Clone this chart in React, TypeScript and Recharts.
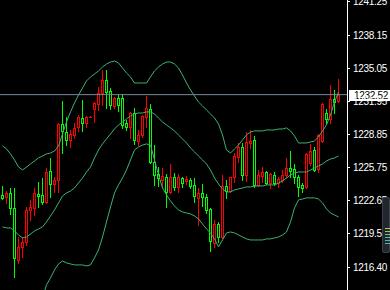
import React from 'react';
import { ComposedChart, Bar, Line, XAxis, YAxis, ReferenceLine } from 'recharts';

// candles, left to right
const OPEN = [
  1223.12, 1222.90, 1223.33, 1221.90, 1217.03, 1218.25, 1218.71, 1221.67, 1221.90, 1223.21,
  1223.07, 1222.49, 1225.37, 1224.15, 1224.52, 1229.77, 1229.05, 1228.27, 1228.74, 1229.49,
  1230.36, 1229.89, 1230.42, 1231.18, 1231.65, 1232.68, 1233.89, 1232.86, 1231.49, 1232.24,
  1232.24, 1229.86, 1229.52, 1230.80, 1228.21, 1228.74, 1230.43, 1231.18, 1226.21, 1225.09,
  1224.52, 1224.81, 1223.40, 1224.81, 1223.87, 1224.71, 1224.43, 1224.52, 1224.06, 1222.84,
  1223.31, 1222.93, 1221.81, 1218.62, 1220.40, 1219.18, 1223.96, 1223.49, 1224.81, 1226.68,
  1227.62, 1224.99, 1227.99, 1228.27, 1224.06, 1224.90, 1225.27, 1224.24, 1224.99, 1224.24,
  1224.52, 1224.99, 1225.65, 1225.55, 1224.81, 1224.06, 1223.87, 1226.12, 1227.33, 1225.55,
  1228.18, 1230.80, 1230.24, 1232.11, 1231.93,
];
const HIGH = [
  1223.96, 1223.52, 1223.77, 1223.77, 1219.18, 1219.18, 1221.99, 1222.65, 1223.77, 1224.34,
  1224.71, 1225.65, 1226.59, 1224.81, 1229.86, 1231.93, 1230.43, 1229.21, 1229.86, 1230.61,
  1232.02, 1230.52, 1230.48, 1231.86, 1233.27, 1234.86, 1234.83, 1233.14, 1232.33, 1232.49,
  1232.58, 1230.14, 1230.90, 1231.27, 1229.21, 1230.61, 1232.40, 1231.65, 1227.80, 1225.74,
  1225.65, 1225.09, 1226.02, 1225.18, 1225.09, 1224.81, 1224.90, 1224.71, 1224.71, 1223.77,
  1224.15, 1223.21, 1221.90, 1220.78, 1220.59, 1224.99, 1224.52, 1224.81, 1227.05, 1227.99,
  1227.99, 1229.02, 1229.21, 1228.65, 1225.46, 1225.74, 1225.37, 1225.18, 1225.27, 1224.81,
  1225.46, 1226.59, 1227.24, 1226.02, 1224.99, 1224.24, 1227.05, 1227.89, 1227.62, 1228.83,
  1231.74, 1231.18, 1233.43, 1232.96, 1233.99,
];
const LOW = [
  1222.70, 1222.34, 1221.34, 1215.43, 1216.75, 1217.31, 1218.43, 1220.78, 1221.24, 1221.99,
  1222.27, 1222.37, 1222.93, 1223.40, 1223.40, 1227.05, 1227.80, 1227.62, 1228.46, 1229.12,
  1229.12, 1229.49, 1230.40, 1229.99, 1231.08, 1231.58, 1231.27, 1231.18, 1231.27, 1230.99,
  1229.42, 1229.21, 1228.46, 1227.89, 1227.80, 1228.55, 1229.49, 1226.12, 1224.06, 1223.96,
  1223.77, 1221.99, 1223.31, 1223.59, 1223.40, 1223.87, 1224.15, 1223.77, 1222.46, 1220.31,
  1222.09, 1221.43, 1217.87, 1218.25, 1218.71, 1219.09, 1222.84, 1223.40, 1224.34, 1226.21,
  1224.52, 1224.43, 1227.52, 1223.87, 1223.96, 1224.34, 1224.15, 1223.77, 1224.06, 1223.87,
  1224.34, 1224.71, 1224.81, 1224.24, 1223.02, 1223.40, 1223.77, 1225.93, 1225.37, 1225.27,
  1228.08, 1229.86, 1229.86, 1230.80, 1231.83,
];
const CLOSE = [
  1222.87, 1223.33, 1221.87, 1217.22, 1218.25, 1218.71, 1221.71, 1221.99, 1223.31, 1223.02,
  1222.42, 1225.30, 1224.15, 1224.52, 1229.77, 1229.12, 1228.27, 1228.83, 1229.40, 1230.43,
  1229.86, 1230.43, 1230.46, 1231.74, 1232.68, 1233.89, 1232.80, 1231.55, 1232.24, 1231.55,
  1229.68, 1229.52, 1230.80, 1228.27, 1228.74, 1230.52, 1231.27, 1226.21, 1224.99, 1224.71,
  1224.90, 1223.40, 1224.81, 1223.87, 1224.81, 1224.24, 1224.62, 1223.96, 1223.02, 1223.31,
  1222.93, 1221.71, 1218.81, 1220.40, 1219.18, 1223.96, 1223.52, 1224.81, 1226.77, 1227.62,
  1224.99, 1228.08, 1228.18, 1224.06, 1224.99, 1225.27, 1224.24, 1225.09, 1224.24, 1224.62,
  1224.99, 1225.65, 1225.32, 1224.81, 1223.87, 1223.77, 1226.96, 1227.24, 1225.46, 1228.74,
  1231.65, 1230.24, 1232.11, 1231.83, 1232.52,
];

// bollinger bands
const BB_UPPER = [
  1227.71, 1227.43, 1226.96, 1226.40, 1225.74, 1225.46, 1225.74, 1226.02, 1226.30, 1226.59,
  1226.77, 1226.96, 1227.05, 1227.24, 1227.71, 1228.83, 1229.96, 1230.90, 1231.74, 1232.49,
  1233.14, 1233.80, 1234.18, 1234.46, 1234.74, 1235.11, 1235.39, 1235.58, 1235.67, 1235.49,
  1235.02, 1234.55, 1234.18, 1233.61, 1233.61, 1233.61, 1233.61, 1234.18, 1234.74, 1235.11,
  1235.39, 1235.58, 1235.58, 1235.39, 1235.02, 1234.36, 1233.61, 1232.96, 1232.39, 1231.83,
  1231.46, 1231.08, 1230.71, 1230.33, 1229.77, 1228.74, 1227.33, 1227.05, 1227.43, 1227.80,
  1228.27, 1228.74, 1229.02, 1229.12, 1229.12, 1229.12, 1229.21, 1229.21, 1229.21, 1229.30,
  1229.30, 1229.40, 1229.12, 1228.65, 1227.99, 1227.99, 1227.99, 1228.08, 1228.18, 1228.55,
  1229.12, 1229.68, 1230.61, 1231.83, 1232.77,
];
const BB_MID = [
  1220.12, 1220.03, 1220.03, 1219.75, 1219.37, 1219.09, 1219.18, 1219.46, 1219.75, 1219.93,
  1220.12, 1220.59, 1221.15, 1221.71, 1222.37, 1223.02, 1223.31, 1223.49, 1223.77, 1224.24,
  1224.71, 1225.27, 1225.74, 1226.59, 1227.33, 1227.90, 1228.37, 1228.83, 1229.30, 1229.68,
  1229.96, 1230.24, 1230.52, 1230.71, 1230.80, 1230.80, 1230.90, 1230.90, 1230.71, 1230.33,
  1229.96, 1229.68, 1229.40, 1229.12, 1228.74, 1228.37, 1227.99, 1227.52, 1227.15, 1226.77,
  1226.40, 1226.02, 1225.46, 1224.71, 1224.15, 1223.68, 1223.40, 1223.40, 1223.59, 1223.68,
  1223.77, 1223.87, 1223.87, 1223.96, 1223.96, 1223.96, 1224.06, 1224.06, 1224.06, 1224.24,
  1224.43, 1224.71, 1224.99, 1225.18, 1225.27, 1225.27, 1225.27, 1225.46, 1225.65, 1225.84,
  1226.02, 1226.30, 1226.49, 1226.59, 1226.77,
];
const BB_LOWER = [
  1212.53, 1212.62, 1213.09, 1213.09, 1213.00, 1212.72, 1212.62, 1212.91, 1213.19, 1213.28,
  1213.47, 1214.69, 1215.34, 1216.09, 1216.65, 1216.93, 1216.75, 1216.65, 1216.56, 1216.56,
  1216.56, 1216.47, 1216.56, 1217.22, 1217.96, 1219.18, 1220.59, 1221.99, 1223.31, 1224.06,
  1224.71, 1225.46, 1226.40, 1227.33, 1227.62, 1227.80, 1227.90, 1227.80, 1226.40, 1224.99,
  1223.77, 1223.12, 1222.56, 1222.09, 1221.71, 1221.53, 1221.43, 1221.34, 1221.15, 1220.87,
  1220.40, 1219.93, 1219.56, 1219.00, 1218.25, 1218.90, 1219.56, 1219.65, 1219.56, 1219.37,
  1219.18, 1219.00, 1218.90, 1218.90, 1218.90, 1218.90, 1219.00, 1219.00, 1219.09, 1219.18,
  1219.37, 1219.65, 1220.59, 1221.90, 1222.65, 1222.74, 1222.84, 1222.84, 1222.84, 1222.74,
  1222.37, 1221.81, 1221.43, 1221.24, 1221.06,
];

const PRICE_TICKS = [1241.25, 1238.15, 1235.05, 1231.95, 1228.85, 1225.75, 1222.65, 1219.55, 1216.40];
const BID = 1232.52;

const UP = '#ff0000';
const DOWN = '#00ff00';
const BAND = '#3cb371';

const data = OPEN.map((o, i) => ({
  i,
  open: o,
  high: HIGH[i],
  low: LOW[i],
  close: CLOSE[i],
  upper: BB_UPPER[i],
  mid: BB_MID[i],
  lower: BB_LOWER[i],
}));

const Candle = (props: any) => {
  const { x, y, width, height, payload } = props;
  if (x == null || y == null) return null;
  const cx = Math.round(x + width / 2 - 0.5) + 0.5;
  const top = Math.min(y, y + height);
  const h = Math.abs(height);
  const range = payload.high - payload.low;
  const toY = (v: number) => (range > 0 ? top + ((payload.high - v) / range) * h : top);
  const color = payload.close >= payload.open ? UP : DOWN;
  const bTop = Math.round(toY(Math.max(payload.open, payload.close))) + 0.5;
  const bBot = Math.round(toY(Math.min(payload.open, payload.close))) + 0.5;
  const wTop = Math.round(top);
  const wBot = Math.round(top + h) + 1;
  return (
    <g>
      <line x1={cx} x2={cx} y1={wTop} y2={wBot} stroke={color} strokeWidth={1} />
      {bBot - bTop < 1 ? (
        <line x1={cx - 1.5} x2={cx + 1.5} y1={bTop} y2={bTop} stroke={color} strokeWidth={1} />
      ) : (
        <rect x={cx - 1} y={bTop} width={2} height={bBot - bTop} fill="#000" stroke={color} strokeWidth={1} />
      )}
    </g>
  );
};

const PriceTick = (props: any) => {
  const { y, payload } = props;
  const ty = Math.round(y) + 0.5;
  return (
    <g>
      <line x1={347} x2={350} y1={ty} y2={ty} stroke="#fff" strokeWidth={1} />
      <text
        x={353}
        y={ty + 3.5}
        fill="#fff"
        fontSize={10}
        fontFamily="Liberation Sans, Arial, sans-serif"
        letterSpacing={-0.3}
        textAnchor="start"
      >
        {payload.value.toFixed(2)}
      </text>
    </g>
  );
};

const BidTag = (props: any) => {
  const vb = props.viewBox || {};
  const yy = Math.round(vb.y);
  const left = (vb.x || 0) + (vb.width || 0) + 2;
  return (
    <g>
      <rect x={left} y={yy - 5} width={41} height={11} fill="#fff" />
      <text
        x={left + 5}
        y={yy + 4}
        fill="#000"
        fontSize={10}
        fontFamily="Liberation Sans, Arial, sans-serif"
        letterSpacing={-0.3}
      >
        {BID.toFixed(2)}
      </text>
    </g>
  );
};

export default function App() {
  return (
    <div style={{ position: 'relative', width: 390, height: 290, background: '#000', overflow: 'hidden' }}>
      <style>{'body{margin:0;background:#000}'}</style>
      <ComposedChart width={390} height={290} data={data} margin={{ top: 0, right: 0, bottom: 0, left: 0 }}>
        <XAxis dataKey="i" type="number" domain={[-0.625, 86.125]} allowDataOverflow hide />
        <YAxis
          orientation="right"
          width={43}
          domain={[1214.21, 1241.39]}
          allowDataOverflow
          ticks={PRICE_TICKS}
          interval={0}
          axisLine={false}
          tickLine={false}
          tick={<PriceTick />}
        />
        <Line dataKey="upper" stroke={BAND} strokeWidth={1} dot={false} activeDot={false} isAnimationActive={false} />
        <Line dataKey="mid" stroke={BAND} strokeWidth={1} dot={false} activeDot={false} isAnimationActive={false} />
        <Line dataKey="lower" stroke={BAND} strokeWidth={1} dot={false} activeDot={false} isAnimationActive={false} />
        <Bar
          dataKey={(d: any) => [d.low, d.high]}
          barSize={3}
          shape={(p: any) => <Candle {...p} />}
          activeBar={false}
          isAnimationActive={false}
        />
        <ReferenceLine y={BID} stroke="#778899" strokeWidth={1} label={(p: any) => <BidTag {...p} />} />
      </ComposedChart>
      {/* axis line */}
      <div style={{ position: 'absolute', left: 347, top: 0, width: 1, height: 290, background: '#fff' }} />
      {/* little terminal widget at the right edge */}
      <div
        style={{
          position: 'absolute', left: 382, top: 197, width: 8, height: 56,
          background: '#22262d', border: '1px solid #3b4049', borderRadius: 2, boxSizing: 'border-box',
        }}
      >
        <div style={{ position: 'absolute', left: 2, top: 30, width: 6, height: 1, background: '#b8c258' }} />
        <div style={{ position: 'absolute', left: 2, top: 33, width: 6, height: 1, background: '#94c466' }} />
        <div style={{ position: 'absolute', left: 2, top: 36, width: 6, height: 1, background: '#72c07e' }} />
        <div style={{ position: 'absolute', left: 2, top: 39, width: 6, height: 1, background: '#5cb898' }} />
        <div style={{ position: 'absolute', left: 2, top: 42, width: 6, height: 1, background: '#56b4a6' }} />
        <div style={{ position: 'absolute', left: 2, top: 45, width: 6, height: 1, background: '#56b4a6' }} />
      </div>
    </div>
  );
}
